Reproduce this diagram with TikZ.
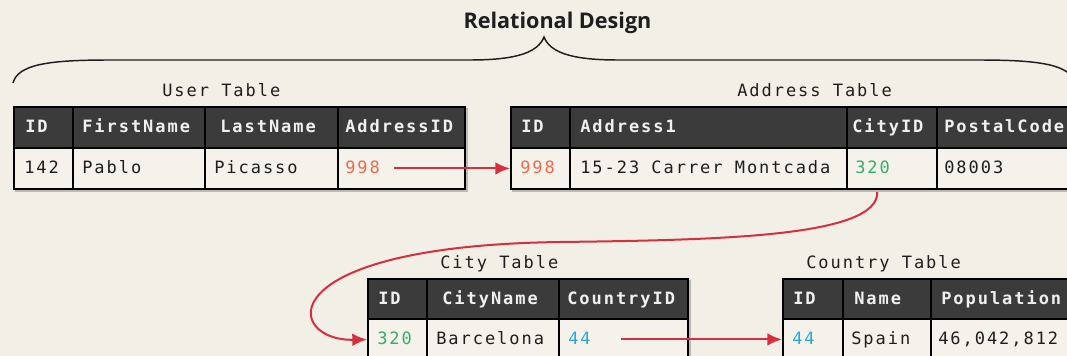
\documentclass[tikz,border=0pt]{standalone}
\usepackage{fontspec}
\usetikzlibrary{arrows.meta,calc,backgrounds}

% Table lettering: a monospaced face, opened up a little
\newfontfamily\tblfont{DejaVu Sans Mono}[LetterSpace=11.5]
\newfontfamily\titlefont{Open Sans}

\definecolor{paper}{HTML}{F2F0E6}
\definecolor{cellpaper}{HTML}{F4F2EA}
\definecolor{headgray}{HTML}{3B3B3B}
\definecolor{headtext}{HTML}{F0F0F0}
\definecolor{ink}{HTML}{1E1E1E}
\definecolor{linkred}{HTML}{D62F3D}
\definecolor{keyred}{HTML}{EE6A4C}
\definecolor{keygreen}{HTML}{36AE6A}
\definecolor{keyblue}{HTML}{2AA7DF}

\tikzset{
  sz/.style 2 args={minimum width=#1*0.75pt, minimum height=#2*0.75pt},
  hcell/.style={rectangle, draw=black, fill=headgray, line width=1.4pt, inner sep=0, anchor=north west},
  bcell/.style={rectangle, draw=black, fill=cellpaper, line width=1.4pt, inner sep=0, anchor=north west},
  htext/.style={inner sep=0, anchor=base west, text=headtext,
    font=\tblfont\fontsize{12.75}{14}\selectfont\bfseries},
  btext/.style={inner sep=0, anchor=base west, text=ink,
    font=\tblfont\fontsize{12.75}{14}\selectfont},
  caption/.style={btext},
  link/.style={draw=linkred, line width=1.5pt, -{Latex[length=11pt,width=9.5pt]}},
  tblshadow/.style={fill=black, opacity=0.22},
}

\begin{document}
\begin{tikzpicture}[x=0.75pt, y=-0.75pt]
\useasboundingbox (0,0) rectangle (1067,356);
\clip (0,0) rectangle (1067,356);

% ---- title and brace ----
\node[inner sep=0, anchor=base, text=ink, font=\titlefont\bfseries\fontsize{16.2}{19}\selectfont]
  (title) at (557.5,29) {Relational Design};
\draw[line width=1.1pt, ink]
  (13,83) .. controls (18,64) and (50,60) .. (110,60) -- (470,60)
  .. controls (518,60) and (538,52) .. (544,37)
  .. controls (550,52) and (570,60) .. (618,60) -- (978,60)
  .. controls (1038,60) and (1070,64) .. (1075,83);

% ---- User table ----
\node[caption] (capUser) at (162,96.5) {User Table};
\foreach \nm/\x/\w in {uh1/13/59, uh2/72/132, uh3/204/133, uh4/337/127}
  \node[hcell, sz={\w}{41}] (\nm) at (\x,106) {};
\foreach \nm/\x/\w in {ub1/13/59, ub2/72/132, ub3/204/133, ub4/337/127}
  \node[bcell, sz={\w}{41}] (\nm) at (\x,147) {};
\node[htext] (tuh1) at (25,133) {ID};
\node[htext] (tuh2) at (82,133) {FirstName};
\node[htext] (tuh3) at (220,133) {LastName};
\node[htext] (tuh4) at (345,133) {AddressID};
\node[btext] (tub1) at (24,173.5) {142};
\node[btext] (tub2) at (82,173.5) {Pablo};
\node[btext] (tub3) at (214,173.5) {Picasso};
\node[btext, text=keyred] (tub4) at (345,173.5) {998};

% ---- Address table ----
\node[caption] (capAddr) at (737,96.5) {Address Table};
\foreach \nm/\x/\w in {ah1/510/59, ah2/569/277, ah3/846/90, ah4/936/160}
  \node[hcell, sz={\w}{41}] (\nm) at (\x,106) {};
\foreach \nm/\x/\w in {ab1/510/59, ab2/569/277, ab3/846/90, ab4/936/160}
  \node[bcell, sz={\w}{41}] (\nm) at (\x,147) {};
\node[htext] (tah1) at (521,133) {ID};
\node[htext] (tah2) at (580,133) {Address1};
\node[htext] (tah3) at (852,133) {CityID};
\node[htext] (tah4) at (944,133) {PostalCode};
\node[btext, text=keyred] (tab1) at (520,173.5) {998};
\node[btext] (tab2) at (580,173.5) {15-23 Carrer Montcada};
\node[btext, text=keygreen] (tab3) at (855,173.5) {320};
\node[btext] (tab4) at (944,173.5) {08003};

% ---- City table ----
\node[caption] (capCity) at (440,268) {City Table};
\foreach \nm/\x/\w in {ch1/367/59, ch2/426/132, ch3/558/129}
  \node[hcell, sz={\w}{40}] (\nm) at (\x,278) {};
\foreach \nm/\x/\w in {cb1/367/59, cb2/426/132, cb3/558/129}
  \node[bcell, sz={\w}{41}] (\nm) at (\x,318) {};
\node[htext] (tch1) at (378,304) {ID};
\node[htext] (tch2) at (442,304) {CityName};
\node[htext] (tch3) at (567,304) {CountryID};
\node[btext, text=keygreen] (tcb1) at (377,344.5) {320};
\node[btext] (tcb2) at (436,344.5) {Barcelona};
\node[btext, text=keyblue] (tcb3) at (568,344.5) {44};

% ---- Country table ----
\node[caption] (capCountry) at (806,268) {Country Table};
\foreach \nm/\x/\w in {kh1/782/60, kh2/842/88, kh3/930/160}
  \node[hcell, sz={\w}{40}] (\nm) at (\x,278) {};
\foreach \nm/\x/\w in {kb1/782/60, kb2/842/88, kb3/930/160}
  \node[bcell, sz={\w}{41}] (\nm) at (\x,318) {};
\node[htext] (tkh1) at (793,304) {ID};
\node[htext] (tkh2) at (854,304) {Name};
\node[htext] (tkh3) at (941,304) {Population};
\node[btext, text=keyblue] (tkb1) at (792,344.5) {44};
\node[btext] (tkb2) at (851,344.5) {Spain};
\node[btext] (tkb3) at (938,344.5) {46,042,812};

% ---- foreign-key links ----
\path (tub4.east) ++(10.5pt,0) coordinate (s1);
\draw[link] (s1 |- ab1.west) -- (ab1.west);

\path (ab3.south) ++(-11pt,-1.5pt) coordinate (s2);
\coordinate (via) at (560,242);
\draw[link] (s2) .. controls +(2,45) and +(160,-2) .. (via)
  .. controls +(-295,4) and +(-82,2) .. (cb1.west);

\path (tcb3.east) ++(22.5pt,0) coordinate (s3);
\draw[link] (s3 |- kb1.west) -- (kb1.west);

% ---- paper and table shadows ----
\begin{pgfonlayer}{background}
  \fill[paper] (0,0) rectangle (1067,356);
  \fill[tblshadow] ($(uh1.north west)+(2,2)$) rectangle ($(ub4.south east)+(2,2)$);
  \fill[tblshadow] ($(ah1.north west)+(2,2)$) rectangle ($(ab4.south east)+(2,2)$);
  \fill[tblshadow] ($(ch1.north west)+(2,2)$) rectangle ($(cb3.south east)+(2,2)$);
  \fill[tblshadow] ($(kh1.north west)+(2,2)$) rectangle ($(kb3.south east)+(2,2)$);
\end{pgfonlayer}
\end{tikzpicture}
\end{document}
